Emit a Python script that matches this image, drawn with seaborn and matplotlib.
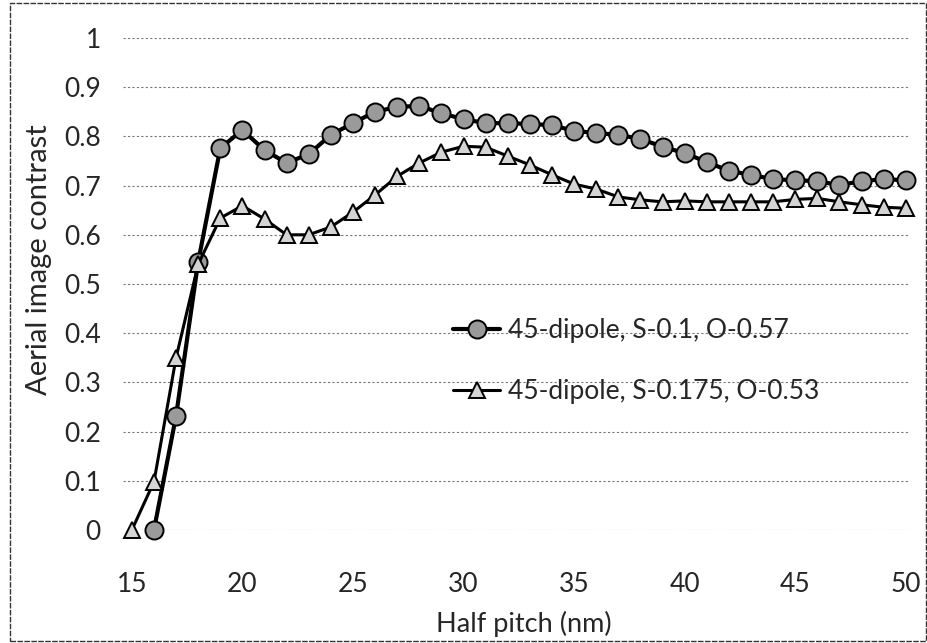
import seaborn as sns
import pandas as pd
import matplotlib.pyplot as plt
from matplotlib.patches import Rectangle

# half pitch (nm) and aerial image contrast
x_s01 = list(range(16, 51))
y_s01 = [0.0, 0.232, 0.545, 0.776, 0.813, 0.772, 0.746, 0.764, 0.803, 0.827,
         0.850, 0.860, 0.862, 0.847, 0.835, 0.827, 0.827, 0.825, 0.823, 0.811,
         0.807, 0.803, 0.795, 0.779, 0.766, 0.748, 0.730, 0.722, 0.713, 0.711,
         0.709, 0.701, 0.709, 0.713, 0.711]

x_s0175 = list(range(15, 51))
y_s0175 = [0.0, 0.098, 0.350, 0.540, 0.634, 0.659, 0.632, 0.600, 0.600, 0.616,
           0.646, 0.681, 0.719, 0.746, 0.768, 0.780, 0.778, 0.760, 0.742, 0.722,
           0.703, 0.693, 0.677, 0.671, 0.667, 0.669, 0.667, 0.667, 0.667, 0.667,
           0.672, 0.674, 0.667, 0.661, 0.656, 0.654]

labels = ["45-dipole, S-0.1, O-0.57", "45-dipole, S-0.175, O-0.53"]
xticks = [15, 20, 25, 30, 35, 40, 45, 50]
yticks = [0, 0.1, 0.2, 0.3, 0.4, 0.5, 0.6, 0.7, 0.8, 0.9, 1]

sns.set_style("white")
plt.rcParams['font.family'] = ['Lato', 'DejaVu Sans']

df1 = pd.DataFrame({'x': x_s01, 'y': y_s01})
df2 = pd.DataFrame({'x': x_s0175, 'y': y_s0175})

fig = plt.figure(figsize=(9.28, 6.43), dpi=100)
ax = fig.add_axes([123 / 928, 1 - 530 / 643, 785 / 928, 492 / 643])

sns.lineplot(data=df1, x='x', y='y', ax=ax, color='black', linewidth=3.0,
             marker='o', markersize=13, markerfacecolor='#9a9a9a',
             markeredgecolor='black', markeredgewidth=1.4, label=labels[0],
             clip_on=False, zorder=3)
sns.lineplot(data=df2, x='x', y='y', ax=ax, color='black', linewidth=2.2,
             marker='^', markersize=12, markerfacecolor='#d4d4d4',
             markeredgecolor='black', markeredgewidth=1.4, label=labels[1],
             clip_on=False, zorder=3)

ax.set_xlim(14.6, 50.1)
ax.set_ylim(0, 1)
ax.set_xticks(xticks)
ax.set_xticklabels([str(t) for t in xticks])
ax.set_yticks(yticks)
ax.set_yticklabels(['0' if t == 0 else ('1' if t == 1 else f'{t:.1f}') for t in yticks])
ax.tick_params(axis='x', length=0, pad=30, labelsize=19)
ax.tick_params(axis='y', length=0, pad=16, labelsize=19)
ax.yaxis.grid(True, color='#777777', linestyle=(0, (2, 2)), linewidth=0.8)
ax.xaxis.grid(False)
for s in ax.spines.values():
    s.set_visible(False)

ax.set_xlabel('Half pitch (nm)', fontsize=19.5)
ax.xaxis.set_label_coords(0.51, -0.165)
ax.set_ylabel('Aerial image contrast', fontsize=21)
ax.yaxis.set_label_coords(-0.09, 0.549)

ax.legend(loc='center left', bbox_to_anchor=(0.39, 0.343), frameon=False,
          fontsize=19, handlelength=1.8, handletextpad=0.3, labelspacing=1.35)

fig.patches.append(Rectangle((10 / 928, 2 / 643), 916 / 928, 638 / 643,
                             transform=fig.transFigure, fill=False,
                             edgecolor='#333333', linewidth=1.0,
                             linestyle=(0, (4, 1))))

plt.savefig('out.png', dpi=100)
